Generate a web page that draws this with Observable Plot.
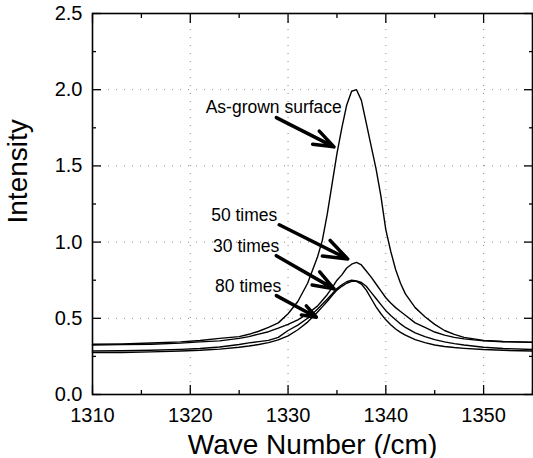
<!DOCTYPE html>
<html><head><meta charset="utf-8">
<script src="https://cdn.jsdelivr.net/npm/d3@7"></script>
<script src="https://cdn.jsdelivr.net/npm/@observablehq/plot@0.6"></script>
<style>body{margin:0;background:#fff;} svg{display:block;}</style>
</head><body><div id="chart"></div>
<script>
// Wave numbers (/cm) at which the curves were read
const waveNumbers = [1310,1313,1316,1319,1321,1323,1325,1326,1327,1328,1329,1330,1331,1332,1333,1333.5,1334,1334.5,1335,1335.5,1336,1336.5,1337,1337.5,1338,1338.5,1339,1339.5,1340,1340.5,1341,1341.5,1342,1343,1344,1345,1346,1347,1348,1350,1352,1355];
const asGrown  = [.330,.332,.338,.345,.354,.368,.380,.395,.415,.440,.470,.530,.610,.730,.900,1.010,1.180,1.380,1.580,1.750,1.900,1.990,2.000,1.930,1.780,1.630,1.480,1.300,1.080,.940,.820,.730,.660,.570,.510,.460,.420,.395,.375,.355,.348,.343];
const times50  = [.325,.327,.330,.337,.345,.352,.368,.380,.396,.412,.435,.460,.490,.530,.580,.617,.655,.700,.750,.785,.830,.855,.867,.850,.810,.770,.725,.680,.635,.600,.570,.545,.520,.470,.440,.410,.390,.375,.365,.352,.346,.342];
const times30  = [.285,.287,.290,.296,.302,.312,.328,.339,.347,.355,.375,.420,.455,.500,.560,.592,.625,.660,.695,.720,.740,.750,.745,.735,.710,.670,.630,.590,.550,.518,.490,.463,.440,.405,.380,.360,.345,.334,.325,.310,.302,.295];
const times80  = [.275,.276,.280,.285,.290,.298,.310,.318,.328,.340,.358,.385,.425,.475,.540,.575,.610,.650,.685,.710,.730,.742,.742,.725,.685,.630,.575,.530,.490,.458,.430,.408,.390,.360,.340,.325,.315,.308,.303,.295,.290,.285];
const seriesNames = ["As-grown surface","50 times","30 times","80 times"];
const seriesValues = [asGrown, times50, times30, times80];

// Annotations (label end point and arrow, in data units)
const annLabels = ["As-grown surface","50 times","30 times","80 times"];
const annX = [1335.5, 1328.9, 1329.1, 1329.3];
const annY = [1.848, 1.140, 0.937, 0.675];
const arrowX1 = [1328.8, 1329.1, 1328.8, 1328.8];
const arrowY1 = [1.817, 1.114, 0.911, 0.649];
const arrowX2 = [1334.7, 1336.1, 1334.7, 1332.9];
const arrowY2 = [1.625, 0.889, 0.693, 0.507];

// Ticks and titles
const xTicks = [1310,1320,1330,1340,1350];
const xMinor = [1315,1325,1335,1345,1355];
const yTicks = [0,0.5,1.0,1.5,2.0,2.5];
const yMinor = [0.25,0.75,1.25,1.75,2.25];
const xGrid = [1320,1330,1340,1350];
const yGrid = [0.5,1.0,1.5,2.0];
const xTitle = "Wave Number (/cm)";
const yTitle = "Intensity";

const rows = [];
seriesNames.forEach((s, k) => waveNumbers.forEach((w, i) => rows.push({series: s, x: w, y: seriesValues[k][i]})));
const ann = annLabels.map((t, i) => ({t, x: annX[i], y: annY[i], x1: arrowX1[i], y1: arrowY1[i], x2: arrowX2[i], y2: arrowY2[i]}));

const font = "'Liberation Sans', Arial, Helvetica, sans-serif";
const tickOpts = {text: null, label: null, stroke: "black", strokeWidth: 1.3};

const chart = Plot.plot({
  width: 533, height: 458,
  marginLeft: 92, marginRight: 1, marginTop: 13, marginBottom: 64,
  style: {fontFamily: font, background: "white", color: "black"},
  x: {domain: [1310, 1355]},
  y: {domain: [0, 2.5]},
  marks: [
    Plot.gridX(xGrid, {stroke: "#888", strokeOpacity: 1, strokeDasharray: "1,7"}),
    Plot.gridY(yGrid, {stroke: "#888", strokeOpacity: 1, strokeDasharray: "1,7"}),
    Plot.line(rows, {x: "x", y: "y", z: "series", stroke: "black", strokeWidth: 1.4}),
    Plot.arrow(ann, {x1: "x1", y1: "y1", x2: "x2", y2: "y2", stroke: "black", strokeWidth: 3.5, headLength: 12, headAngle: 40}),
    Plot.text(ann, {x: "x", y: "y", text: "t", textAnchor: "end", lineAnchor: "bottom", fontSize: 17.5, fill: "black"}),
    // inward ticks
    Plot.axisX(xTicks, {anchor: "bottom", tickSize: 9, dy: -9, ...tickOpts}),
    Plot.axisX(xMinor, {anchor: "bottom", tickSize: 4, dy: -4, ...tickOpts}),
    Plot.axisX(xTicks, {anchor: "top", tickSize: 9, dy: 9, ...tickOpts}),
    Plot.axisX(xMinor, {anchor: "top", tickSize: 4, dy: 4, ...tickOpts}),
    Plot.axisY(yTicks, {anchor: "left", tickSize: 9, dx: 9, ...tickOpts}),
    Plot.axisY(yMinor, {anchor: "left", tickSize: 4, dx: 4, ...tickOpts}),
    Plot.axisY(yTicks, {anchor: "right", tickSize: 9, dx: -9, ...tickOpts}),
    Plot.axisY(yMinor, {anchor: "right", tickSize: 4, dx: -4, ...tickOpts}),
    // tick labels
    Plot.axisX(xTicks, {anchor: "bottom", tickSize: 0, tickPadding: 13, fontSize: 20, tickFormat: "d", label: null}),
    Plot.axisY(yTicks, {anchor: "left", tickSize: 0, tickPadding: 10, fontSize: 20, tickFormat: d => d.toFixed(1), label: null}),
    // axis titles
    Plot.text([xTitle], {text: d => d, frameAnchor: "bottom", dy: 59, lineAnchor: "bottom", fontSize: 28, fill: "black"}),
    Plot.text([yTitle], {text: d => d, frameAnchor: "left", dx: -66, dy: 19.5, rotate: -90, lineAnchor: "bottom", fontSize: 28, fill: "black"}),
    Plot.frame({stroke: "black", strokeWidth: 1.6})
  ]
});
document.getElementById("chart").append(chart);
</script>
</body></html>
